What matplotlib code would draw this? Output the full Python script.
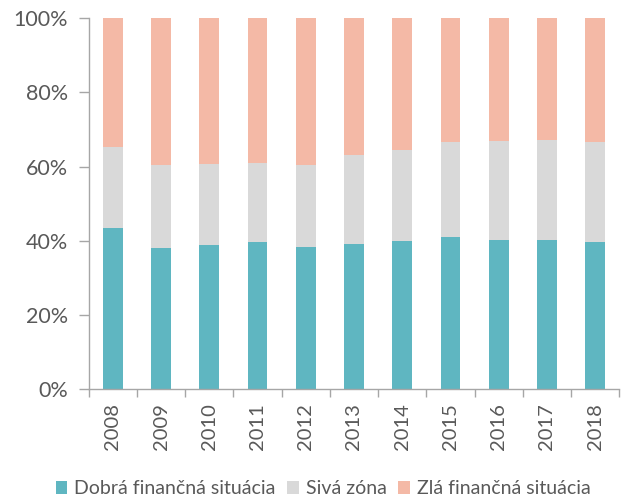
import matplotlib
matplotlib.use("Agg")
import matplotlib.pyplot as plt
from matplotlib.ticker import FuncFormatter
import numpy as np

years = ["2008", "2009", "2010", "2011", "2012", "2013", "2014", "2015", "2016", "2017", "2018"]
good = [43.4, 38.1, 38.9, 39.6, 38.4, 39.1, 40.0, 41.1, 40.3, 40.1, 39.6]
good_plus_grey = [65.3, 60.4, 60.8, 61.0, 60.4, 63.1, 64.4, 66.6, 66.8, 67.1, 66.6]
grey = [round(t - g, 1) for t, g in zip(good_plus_grey, good)]
bad = [round(100 - t, 1) for t in good_plus_grey]

labels = ["Dobrá finančná situácia", "Sivá zóna", "Zlá finančná situácia"]
colors = ["#5FB6C1", "#D9D9D9", "#F4B9A6"]

plt.rcParams["font.family"] = ["Lato", "DejaVu Sans"]
text_color = "#595959"
axis_color = "#A6A6A6"

fig = plt.figure(figsize=(6.3, 5.01), dpi=100)
ax = fig.add_axes([0.1408, 0.223, 0.8422, 0.741])

x = np.arange(len(years))
width = 0.41
bottom = np.zeros(len(years))
for vals, col, lab in zip([good, grey, bad], colors, labels):
    ax.bar(x, vals, width, bottom=bottom, color=col, label=lab, linewidth=0)
    bottom += np.array(vals)

ax.set_xlim(-0.5, len(years) - 0.5)
ax.set_ylim(0, 100)
ax.set_yticks([0, 20, 40, 60, 80, 100])
ax.yaxis.set_major_formatter(FuncFormatter(lambda v, p: f"{v:.0f}%"))
ax.set_xticks(x)
ax.set_xticklabels(years, rotation=90)
ax.set_xticks(np.arange(len(years) + 1) - 0.5, minor=True)

for side in ["top", "right"]:
    ax.spines[side].set_visible(False)
for side in ["left", "bottom"]:
    ax.spines[side].set_color(axis_color)
    ax.spines[side].set_linewidth(1.0)

ax.tick_params(axis="y", colors=axis_color, labelcolor=text_color, labelsize=15.5, length=7, width=1.0, pad=8)
ax.tick_params(axis="x", which="major", length=0, labelcolor=text_color, labelsize=14.5, pad=10)
ax.tick_params(axis="x", which="minor", colors=axis_color, length=6, width=1.0)

leg = fig.legend(loc="center", bbox_to_anchor=(0.513, 0.024), ncol=3, frameon=False,
                 fontsize=14, handlelength=0.6, handleheight=0.6, handletextpad=0.35,
                 columnspacing=0.6, labelcolor=text_color)

fig.savefig("out.png", dpi=100)
